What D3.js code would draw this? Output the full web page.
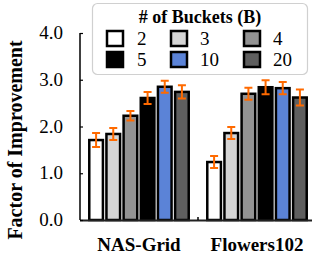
<!DOCTYPE html>
<html>
<head>
<meta charset="utf-8">
<style>
	body { margin: 0; background: #fff; }
	.vis-buckets { width: 312px; height: 256px; }
	.vis-buckets text { font-family: "Liberation Serif", "Times New Roman", serif; fill: #000; }
	.axis-label { font-weight: 700; font-size: 19px; }
	.y-label { font-weight: 700; font-size: 20px; }
	.tick-label { font-size: 19px; }
	.legend-box { fill: #fff; stroke: #d0d0d0; stroke-width: 1.2; }
	.legend-title { font-weight: 700; font-size: 18px; }
	.legend-label { font-size: 19px; }
	.bar { stroke: #000; stroke-width: 2.5; }
	.err { stroke: #ff6a00; stroke-width: 2; fill: none; }
</style>
</head>
<body>
<div class="vis-buckets"></div>

<script src="https://d3js.org/d3.v7.min.js"></script>
<script>

	// Data //
	// ---- //
	let groups = ["NAS-Grid", "Flowers102"];
	let buckets = ["2", "3", "4", "5", "10", "20"];
	let colors = ["#ffffff", "#d5d5d5", "#939393", "#000000", "#5b83d7", "#5f5f5f"];
	let nasValues = [1.71, 1.84, 2.23, 2.61, 2.85, 2.74];
	let nasErrors = [0.15, 0.13, 0.10, 0.13, 0.13, 0.14];
	let flowersValues = [1.24, 1.86, 2.70, 2.84, 2.82, 2.62];
	let flowersErrors = [0.13, 0.13, 0.13, 0.15, 0.13, 0.17];
	let yTicks = [0, 1, 2, 3, 4];

	let values = [nasValues, flowersValues];
	let errors = [nasErrors, flowersErrors];

	// Setup //
	// ----- //
	let svg = d3.select(".vis-buckets")
		.append("svg")
			.attr("width", 312)
			.attr("height", 256);

	let axisX = 80,
		plotTop = 33,
		plotBottom = 220,
		plotRight = 312;

	let y = d3.scaleLinear().domain([0, 4]).range([plotBottom, plotTop]);
	let x0 = d3.scaleBand().domain(groups).range([80, 316])
		.paddingInner(0.136).paddingOuter(0.068);
	let x1 = d3.scaleBand().domain(buckets).range([0, x0.bandwidth()])
		.paddingInner(0.06);

	// BARS
	groups.forEach((g, gi) => {
		let gEl = svg.append("g")
			.attr("transform", "translate(" + x0(g) + ",0)");

		let rows = buckets.map((b, i) => ({b: b, v: values[gi][i], e: errors[gi][i], c: colors[i]}));

		gEl.selectAll("rect.bar")
			.data(rows).enter().append("rect")
			.attr("class", "bar")
			.attr("x", d => x1(d.b) + 1.25)
			.attr("y", d => y(d.v))
			.attr("width", x1.bandwidth() - 2.5)
			.attr("height", d => y(0) - y(d.v))
			.style("fill", d => d.c);

		// ERROR BARS
		let cap = 4;
		rows.forEach(d => {
			let cx = x1(d.b) + x1.bandwidth() / 2;
			gEl.append("path")
				.attr("class", "err")
				.attr("d",
					"M" + (cx - cap) + "," + y(d.v + d.e) + "H" + (cx + cap) +
					"M" + cx + "," + y(d.v + d.e) + "V" + y(d.v - d.e) +
					"M" + (cx - cap) + "," + y(d.v - d.e) + "H" + (cx + cap));
		});
	});

	// X-AXIS
	svg.append("line")
		.attr("x1", axisX).attr("x2", plotRight)
		.attr("y1", plotBottom + 0.5).attr("y2", plotBottom + 0.5)
		.style("stroke", "#222").style("stroke-width", 2);
	// tick between groups
	let mid = (x0(groups[0]) + x0.bandwidth() + x0(groups[1])) / 2;
	svg.append("line")
		.attr("x1", mid).attr("x2", mid)
		.attr("y1", plotBottom).attr("y2", plotBottom - 3)
		.style("stroke", "#000").style("stroke-width", 1.5);

	svg.selectAll("text.group-label")
		.data(groups).enter().append("text")
		.attr("class", "axis-label group-label")
		.attr("x", d => x0(d) + x0.bandwidth() / 2)
		.attr("y", 251)
		.style("text-anchor", "middle")
		.text(d => d);

	// Y-AXIS
	let yAxis = d3.axisRight(y).tickValues(yTicks).tickSize(3).tickFormat("");
	let yG = svg.append("g")
		.attr("transform", "translate(" + axisX + ",0)")
		.call(yAxis);
	yG.select(".domain").attr("d", "M0," + plotTop + "V" + plotBottom)
		.style("stroke", "#000").style("stroke-width", 1.5);
	yG.selectAll(".tick line").style("stroke", "#000").style("stroke-width", 1.2);

	svg.selectAll("text.tick-label")
		.data(yTicks).enter().append("text")
		.attr("class", "tick-label")
		.attr("x", 63)
		.attr("y", d => y(d) + 6)
		.style("text-anchor", "end")
		.text(d => d3.format(".1f")(d));

	// Y LABEL
	svg.append("text")
		.attr("class", "y-label")
		.attr("transform", "translate(22," + 140 + ") rotate(-90)")
		.style("text-anchor", "middle")
		.text("Factor of Improvement");

	// LEGEND
	let legend = svg.append("g");
	legend.append("rect")
		.attr("class", "legend-box")
		.attr("x", 92.5).attr("y", 3.5)
		.attr("width", 215).attr("height", 71)
		.attr("rx", 5);
	legend.append("text")
		.attr("class", "legend-title")
		.attr("x", 200).attr("y", 23)
		.style("text-anchor", "middle")
		.text("# of Buckets (B)");

	let colX = [107, 171, 244],
		labX = [137, 200, 273],
		rowY = [31, 52];
	buckets.forEach((b, i) => {
		let c = i % 3, r = Math.floor(i / 3);
		legend.append("rect")
			.attr("class", "bar")
			.attr("x", colX[c]).attr("y", rowY[r])
			.attr("width", 16).attr("height", 15)
			.style("fill", colors[i]);
		legend.append("text")
			.attr("class", "legend-label")
			.attr("x", labX[c]).attr("y", rowY[r] + 14)
			.text(b);
	});

</script>
</body>
</html>
